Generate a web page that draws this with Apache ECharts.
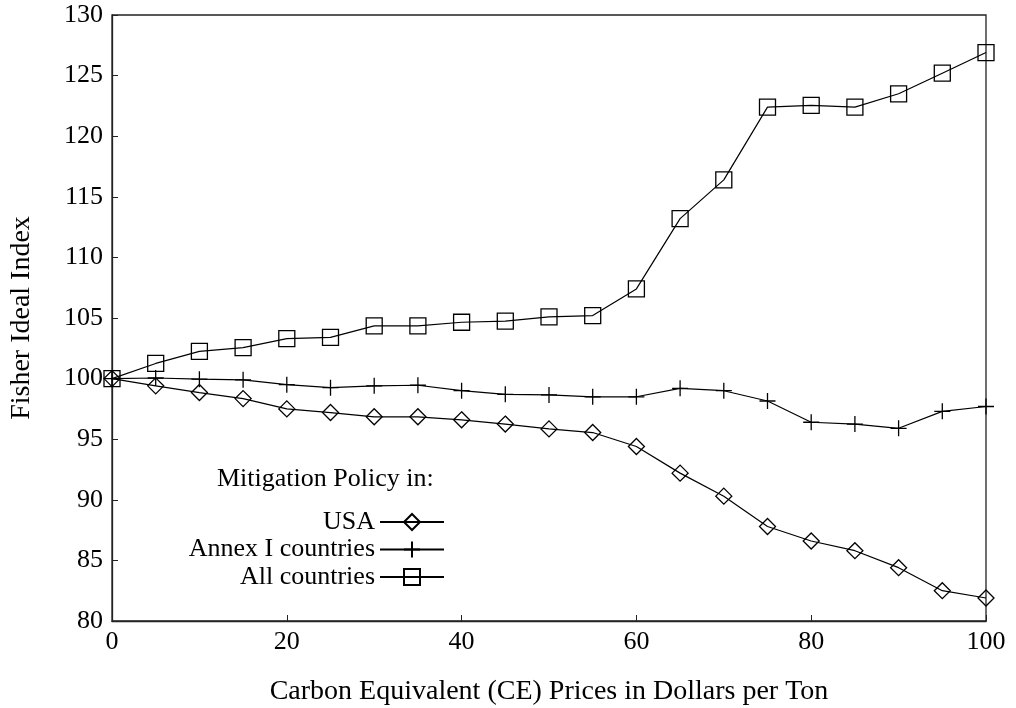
<!DOCTYPE html>
<html>
<head>
<meta charset="utf-8">
<script src="https://cdn.jsdelivr.net/npm/echarts@6/dist/echarts.min.js"></script>
<style>html,body{margin:0;padding:0;background:#fff}#c{width:1016px;height:708px}</style>
</head>
<body>
<div id="c"></div>
<script>
const prices = [0,5,10,15,20,25,30,35,40,45,50,55,60,65,70,75,80,85,90,95,100];
const usa = [100,99.4,98.85,98.35,97.5,97.2,96.85,96.85,96.6,96.25,95.85,95.55,94.4,92.2,90.3,87.8,86.6,85.8,84.4,82.5,81.9];
const annex = [100,100.05,99.95,99.9,99.5,99.25,99.4,99.45,99.0,98.7,98.65,98.5,98.5,99.2,99.0,98.15,96.4,96.25,95.9,97.3,97.7];
const allc = [100,101.25,102.25,102.55,103.3,103.4,104.35,104.35,104.65,104.75,105.1,105.2,107.4,113.2,116.4,122.4,122.55,122.4,123.5,125.2,126.9];
const seriesNames = ['USA','Annex I countries','All countries'];
const legendTitle = 'Mitigation Policy in:';
const xName = 'Carbon Equivalent (CE) Prices in Dollars per Ton';
const yName = 'Fisher Ideal Index';

const FONT = '"Liberation Serif", "DejaVu Serif", serif';
const pair = arr => prices.map((p,i)=>[p,arr[i]]);
const mk = (name, data, symbol) => ({
  name, type:'line', data: pair(data), symbol, symbolSize:16, showAllSymbol:true,
  lineStyle:{color:'#000', width:1.2},
  itemStyle:{color:'rgba(255,255,255,0)', borderColor:'#000', borderWidth:1.3},
  emphasis:{disabled:true}, animation:false
});
const chart = echarts.init(document.getElementById('c'), null, {renderer:'canvas'});
chart.setOption({
  backgroundColor:'#fff',
  animation:false,
  grid:{left:112, right:30, top:15, bottom:87, outerBoundsMode:'none', containLabel:false,
    show:true, borderColor:'#222', borderWidth:1.3, backgroundColor:'transparent'},
  xAxis:{type:'value', min:0, max:100, interval:20,
    name:xName, nameLocation:'middle', nameGap:57,
    nameTextStyle:{fontFamily:FONT, fontSize:28, color:'#000'},
    axisLine:{show:true, lineStyle:{color:'#222', width:1.3}},
    axisTick:{show:true, inside:true, length:6, lineStyle:{color:'#222'}},
    axisLabel:{fontFamily:FONT, fontSize:26, color:'#000', margin:8},
    splitLine:{show:false}},
  yAxis:{type:'value', min:80, max:130, interval:5,
    name:yName, nameLocation:'middle', nameGap:76,
    nameTextStyle:{fontFamily:FONT, fontSize:28, color:'#000'},
    axisLine:{show:true, lineStyle:{color:'#222', width:1.3}},
    axisTick:{show:true, inside:true, length:6, lineStyle:{color:'#222'}},
    axisLabel:{fontFamily:FONT, fontSize:26, color:'#000', margin:9},
    splitLine:{show:false}},
  legend:{orient:'vertical', align:'right', right:571, top:509, padding:0,
    itemWidth:64, itemHeight:20, itemGap:1.5,
    textStyle:{fontFamily:FONT, fontSize:26, color:'#000'},
    data:seriesNames, selectedMode:false},
  graphic:[{type:'text', left:217, top:466, style:{text:legendTitle, font:'26px ' + FONT, fill:'#000'}}],
  series:[
    mk(seriesNames[0], usa, 'diamond'),
    mk(seriesNames[1], annex, 'path://M10,0L10,20M0,10L20,10'),
    mk(seriesNames[2], allc, 'rect')
  ]
});
</script>
</body>
</html>
